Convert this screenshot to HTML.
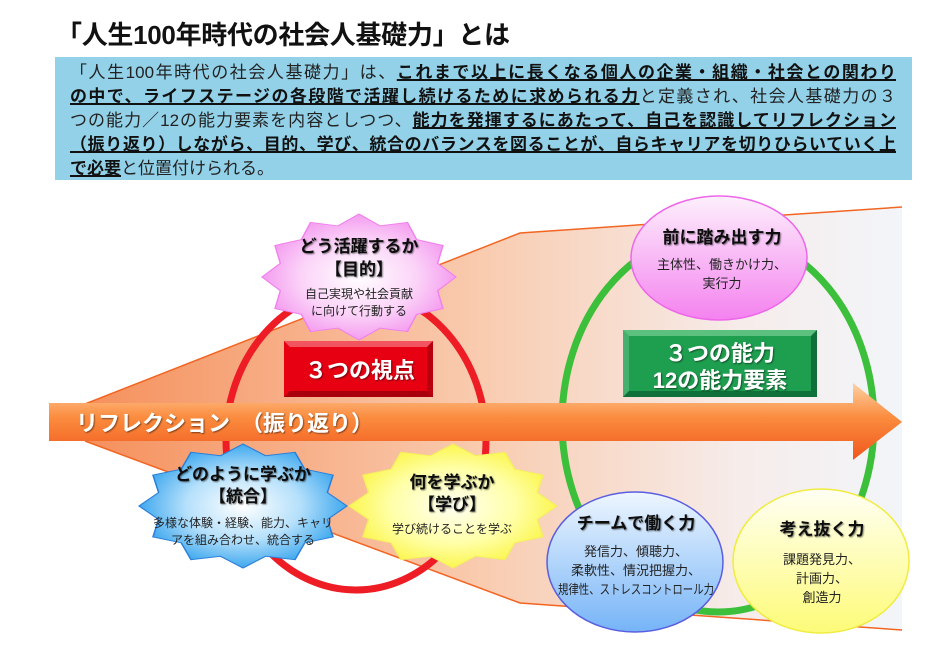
<!DOCTYPE html>
<html><head><meta charset="utf-8">
<style>
html,body{margin:0;padding:0;background:#fff;}
body{width:940px;height:657px;position:relative;overflow:hidden;font-family:"Liberation Sans","Noto Sans CJK JP",sans-serif;}
.title{position:absolute;left:56px;top:15px;font-size:26px;font-weight:bold;color:#111;white-space:nowrap;letter-spacing:-0.3px;}
.box{position:absolute;left:55px;top:57px;width:857px;height:123px;background:#92d1e8;}
.txt{position:absolute;left:70px;top:61px;width:826px;font-size:17px;line-height:24px;color:#222;}
.txt div{text-align:justify;text-align-last:justify;white-space:normal;height:24px;overflow:visible;}
.txt div.last{text-align-last:left;}
b{font-weight:bold;text-decoration:underline;text-decoration-thickness:2px;color:#111;}
svg{position:absolute;left:0;top:0;}
</style></head><body>
<div class="title">「人生100年時代の社会人基礎力」とは</div>
<div class="box"></div>
<div class="txt">
<div>「人生100年時代の社会人基礎力」は、<b>これまで以上に長くなる個人の企業・組織・社会との関わり</b></div>
<div><b>の中で、ライフステージの各段階で活躍し続けるために求められる力</b>と定義され、社会人基礎力の３</div>
<div>つの能力／12の能力要素を内容としつつ、<b>能力を発揮するにあたって、自己を認識してリフレクション</b></div>
<div><b>（振り返り）しながら、目的、学び、統合のバランスを図ることが、自らキャリアを切りひらいていく上</b></div>
<div class="last"><b>で必要</b>と位置付けられる。</div>
</div>
<svg width="940" height="657" viewBox="0 0 940 657" style="top:0">
<defs>
<linearGradient id="fun" x1="0" y1="0" x2="1" y2="0">
<stop offset="0" stop-color="#f5905c"/><stop offset="0.5" stop-color="#f9cdb2"/><stop offset="0.8" stop-color="#f6ecea"/><stop offset="1" stop-color="#f2f5f9"/></linearGradient>
<linearGradient id="arr" x1="0" y1="0" x2="0" y2="1">
<stop offset="0" stop-color="#fdd0a4"/><stop offset="0.45" stop-color="#fb8c3e"/><stop offset="1" stop-color="#f0561c"/></linearGradient>
<radialGradient id="pstar"><stop offset="0" stop-color="#fff"/><stop offset="0.6" stop-color="#fbd3f8"/><stop offset="1" stop-color="#f49cef"/></radialGradient>
<radialGradient id="bstar"><stop offset="0" stop-color="#fff"/><stop offset="0.55" stop-color="#b5e0fb"/><stop offset="1" stop-color="#3fa8ee"/></radialGradient>
<radialGradient id="ystar"><stop offset="0" stop-color="#fffff2"/><stop offset="0.6" stop-color="#ffffa8"/><stop offset="1" stop-color="#fbf650"/></radialGradient>
<linearGradient id="pc" x1="0" y1="0" x2="0" y2="1"><stop offset="0" stop-color="#fdf0fc"/><stop offset="1" stop-color="#f482ef"/></linearGradient>
<linearGradient id="bc" x1="0" y1="0" x2="0" y2="1"><stop offset="0" stop-color="#eef6ff"/><stop offset="1" stop-color="#76b4f7"/></linearGradient>
<linearGradient id="yc" x1="0" y1="0" x2="0" y2="1"><stop offset="0" stop-color="#fffff4"/><stop offset="1" stop-color="#fdfb78"/></linearGradient>
<polygon id="star" points="100,0 81.1,21.7 86.6,50 59.4,59.4 50,86.6 21.7,81.1 0,100 -21.7,81.1 -50,86.6 -59.4,59.4 -86.6,50 -81.1,21.7 -100,0 -81.1,-21.7 -86.6,-50 -59.4,-59.4 -50,-86.6 -21.7,-81.1 0,-100 21.7,-81.1 50,-86.6 59.4,-59.4 86.6,-50 81.1,-21.7"/>
<filter id="sh"><feDropShadow dx="1" dy="1" stdDeviation="0.8" flood-color="#000" flood-opacity="0.5"/></filter>
</defs>
<polygon points="85,404 520,233 902,207 902,630 520,603 85,441" fill="url(#fun)"/>
<polyline points="902,207 520,233 85,404" fill="none" stroke="#f26522" stroke-width="1.5"/>
<polyline points="902,630 520,603 85,441" fill="none" stroke="#f26522" stroke-width="1.5"/>
<ellipse cx="718" cy="422" rx="156" ry="190" fill="none" stroke="#3cbf3a" stroke-width="7"/>
<ellipse cx="356" cy="440" rx="130" ry="150" fill="none" stroke="#ee1c25" stroke-width="7"/>
<polygon points="49,403 853,403 853,383 902,422 853,460 853,441 49,441" fill="url(#arr)"/>
<text x="76" y="431" font-size="22" font-weight="bold" fill="#fff" filter="url(#sh)">リフレクション　（振り返り）</text>
<rect x="284" y="341" width="149" height="56" fill="#e60012"/>
<polygon points="284,341 433,341 427,347 290,347" fill="#f2555f"/>
<polygon points="284,397 433,397 427,391 290,391" fill="#a8000c"/>
<polygon points="433,341 433,397 427,391 427,347" fill="#b8000e"/>
<text x="360" y="378" font-size="22" font-weight="bold" fill="#fff" text-anchor="middle" filter="url(#sh)">３つの視点</text>
<rect x="623" y="330" width="194" height="67" fill="#1e9e4f"/>
<polygon points="623,330 817,330 811,336 629,336" fill="#5cc07f"/>
<polygon points="623,330 629,336 629,391 623,397" fill="#48b06e"/>
<polygon points="623,397 817,397 811,391 629,391" fill="#10703a"/>
<polygon points="817,330 817,397 811,391 811,336" fill="#10703a"/>
<text x="720" y="361" font-size="22" font-weight="bold" fill="#fff" text-anchor="middle" filter="url(#sh)">３つの能力</text>
<text x="720" y="388" font-size="22" font-weight="bold" fill="#fff" text-anchor="middle" filter="url(#sh)">12の能力要素</text>
<use href="#star" transform="translate(359,277) scale(0.97,0.63)" fill="url(#pstar)" stroke="#f080ee" stroke-width="1.5"/>
<use href="#star" transform="translate(243,506) scale(1.04,0.62)" fill="url(#bstar)" stroke="#2a7fd8" stroke-width="1.5"/>
<use href="#star" transform="translate(453,506) scale(1.04,0.62)" fill="url(#ystar)" stroke="#f4ee60" stroke-width="1.5"/>
<g font-weight="bold" fill="#111" text-anchor="middle" font-size="17" filter="url(#sh)">
<text x="359" y="252">どう活躍するか</text>
<text x="359" y="275">【目的】</text>
<text x="243" y="480">どのように学ぶか</text>
<text x="243" y="502">【統合】</text>
<text x="452" y="488">何を学ぶか</text>
<text x="452" y="510">【学び】</text>
</g>
<g fill="#222" text-anchor="middle" font-size="12">
<text x="359" y="298">自己実現や社会貢献</text>
<text x="359" y="315">に向けて行動する</text>
<text x="243" y="527">多様な体験・経験、能力、キャリ</text>
<text x="243" y="544">アを組み合わせ、統合する</text>
<text x="452" y="533">学び続けることを学ぶ</text>
</g>
<ellipse cx="719" cy="258" rx="88" ry="62" fill="url(#pc)" stroke="#ee66ea" stroke-width="1.5"/>
<ellipse cx="635" cy="562" rx="88" ry="70" fill="url(#bc)" stroke="#5a5ee0" stroke-width="1.5"/>
<ellipse cx="821" cy="561" rx="88" ry="72" fill="url(#yc)" stroke="#f0ec40" stroke-width="1.5"/>
<g font-weight="bold" fill="#111" text-anchor="middle" font-size="17" filter="url(#sh)">
<text x="722" y="243">前に踏み出す力</text>
<text x="636" y="529">チームで働く力</text>
<text x="822" y="535">考え抜く力</text>
</g>
<g fill="#222" text-anchor="middle" font-size="13">
<text x="722" y="269">主体性、働きかけ力、</text>
<text x="722" y="288">実行力</text>
<text x="636" y="556">発信力、傾聴力、</text>
<text x="636" y="575">柔軟性、情況把握力、</text>
<text x="636" y="594" textLength="156" lengthAdjust="spacingAndGlyphs">規律性、ストレスコントロール力</text>
<text x="822" y="564">課題発見力、</text>
<text x="822" y="583">計画力、</text>
<text x="822" y="602">創造力</text>
</g>
</svg>
</body></html>
